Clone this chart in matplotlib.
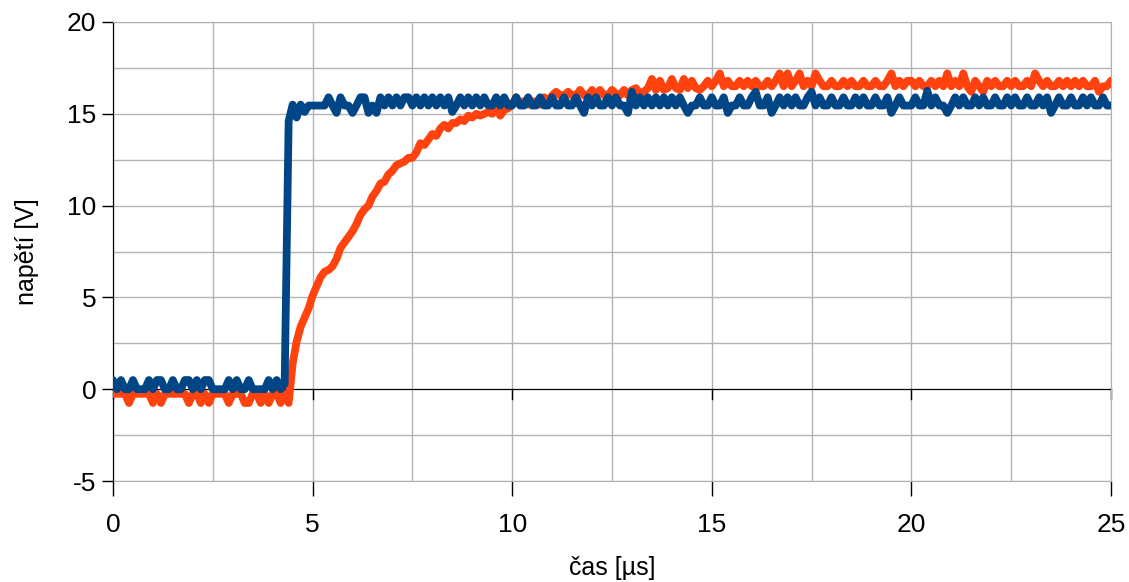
import numpy as np
import matplotlib.pyplot as plt

plt.rcParams['font.family'] = ['Liberation Sans', 'DejaVu Sans']

# sampled every 0.1 us, 0 .. 25 us
dt = 0.1

napeti_1 = [
    0.5, 0.0, 0.5, 0.0, 0.0, 0.5, 0.0, 0.0, 0.0, 0.5,
    0.0, 0.5, 0.5, 0.0, 0.0, 0.5, 0.0, 0.0, 0.5, 0.5,
    0.0, 0.5, 0.0, 0.5, 0.5, 0.0, 0.0, 0.0, 0.0, 0.5,
    0.0, 0.5, 0.0, 0.0, 0.5, 0.0, 0.0, 0.0, 0.0, 0.5,
    0.0, 0.5, 0.0, 0.3, 14.6, 15.5, 14.8, 15.5, 15.1, 15.45,
    15.45, 15.45, 15.45, 15.45, 15.9, 15.45, 15.05, 15.9, 15.45, 15.45,
    15.05, 15.45, 15.9, 15.9, 15.05, 15.45, 15.05, 15.9, 15.45, 15.9,
    15.45, 15.9, 15.45, 15.9, 15.9, 15.45, 15.9, 15.45, 15.9, 15.45,
    15.9, 15.45, 15.9, 15.45, 15.9, 15.1, 15.45, 15.9, 15.45, 15.9,
    15.45, 15.9, 15.45, 15.9, 15.45, 15.45, 15.9, 15.45, 15.9, 15.45,
    15.45, 15.9, 15.45, 15.45, 15.9, 15.45, 15.45, 15.9, 15.45, 15.45,
    15.9, 15.45, 15.45, 15.9, 15.45, 15.45, 15.9, 15.45, 15.05, 15.9,
    15.45, 15.9, 15.45, 15.45, 15.9, 15.45, 15.9, 15.45, 15.45, 15.05,
    16.2, 15.45, 15.9, 15.45, 15.9, 15.45, 15.9, 15.45, 15.9, 15.45,
    15.9, 15.45, 15.9, 15.45, 15.05, 15.45, 15.45, 15.9, 15.45, 15.45,
    15.9, 15.45, 15.45, 15.9, 15.05, 15.45, 15.45, 15.9, 15.45, 15.45,
    15.9, 16.2, 15.45, 15.45, 15.9, 15.05, 15.45, 15.9, 15.45, 15.9,
    15.45, 15.9, 15.45, 15.45, 15.9, 16.2, 15.45, 15.9, 15.45, 15.45,
    15.9, 15.45, 15.45, 15.9, 15.45, 15.45, 15.9, 15.45, 15.9, 15.45,
    15.45, 15.9, 15.45, 15.45, 15.9, 15.05, 15.45, 15.9, 15.45, 15.45,
    15.45, 15.9, 15.45, 15.45, 16.25, 15.45, 15.9, 15.45, 15.45, 15.05,
    15.45, 15.9, 15.45, 15.9, 15.45, 15.45, 15.9, 15.45, 15.9, 15.45,
    15.45, 15.9, 15.45, 15.45, 15.9, 15.45, 15.9, 15.45, 15.45, 15.9,
    15.45, 15.45, 15.9, 15.45, 15.9, 15.05, 15.45, 15.9, 15.45, 15.45,
    15.9, 15.45, 15.45, 15.9, 15.45, 15.9, 15.45, 15.45, 15.9, 15.45,
    15.45,
]

napeti_2 = [
    -0.25, -0.25, -0.25, -0.25, -0.75, -0.25, -0.25, -0.25, -0.25, -0.25,
    -0.75, -0.25, -0.75, -0.25, -0.25, -0.25, -0.25, -0.25, -0.25, -0.75,
    -0.25, -0.25, -0.75, -0.25, -0.75, -0.25, -0.25, -0.25, -0.25, -0.75,
    -0.25, -0.25, -0.25, -0.75, -0.75, -0.25, -0.25, -0.75, -0.25, -0.75,
    -0.25, -0.25, -0.75, -0.25, -0.75, 1.4, 2.6, 3.4, 3.9, 4.4,
    5.1, 5.6, 6.1, 6.4, 6.5, 6.7, 7.1, 7.7, 8.0, 8.3,
    8.6, 9.0, 9.5, 9.8, 10.0, 10.5, 10.8, 11.2, 11.3, 11.7,
    11.9, 12.2, 12.3, 12.4, 12.6, 12.6, 12.9, 13.4, 13.3, 13.6,
    13.9, 13.8, 14.2, 14.4, 14.2, 14.5, 14.5, 14.7, 14.6, 14.9,
    14.8, 15.0, 14.9, 15.0, 15.1, 15.0, 15.3, 14.9, 15.2, 15.3,
    15.5, 15.9, 15.5, 15.7, 15.5, 15.6, 15.7, 15.5, 15.9, 15.6,
    16.0, 16.2, 16.0, 16.0, 16.2, 16.0, 16.0, 16.3, 16.0, 16.0,
    16.3, 16.0, 16.3, 16.0, 16.0, 16.3, 16.1, 16.0, 16.3, 16.0,
    16.3, 16.4, 16.1, 16.2, 16.4, 16.9, 16.3, 16.8, 16.3, 16.4,
    16.9, 16.4, 16.3, 16.9, 16.4, 16.8, 16.4, 16.3, 16.5, 16.8,
    16.5, 16.8, 17.2, 16.5, 16.8, 16.5, 16.5, 16.8, 16.5, 16.8,
    16.5, 16.8, 16.5, 16.5, 16.8, 16.5, 16.8, 17.2, 16.5, 17.2,
    16.5, 16.8, 17.2, 16.5, 16.8, 16.5, 17.2, 16.8, 16.5, 16.5,
    16.8, 16.5, 16.5, 16.8, 16.5, 16.8, 16.5, 16.5, 16.8, 16.5,
    16.5, 16.8, 16.5, 16.5, 16.8, 17.2, 16.5, 16.8, 16.5, 16.8,
    16.8, 16.5, 16.8, 16.5, 16.5, 16.8, 16.5, 16.8, 16.5, 17.2,
    16.5, 16.8, 16.5, 17.2, 16.5, 16.2, 16.8, 16.5, 16.2, 16.8,
    16.5, 16.8, 16.5, 16.5, 16.8, 16.5, 16.8, 16.5, 16.5, 16.8,
    16.5, 17.2, 16.8, 16.5, 16.8, 16.5, 16.5, 16.8, 16.5, 16.8,
    16.5, 16.8, 16.5, 16.8, 16.5, 16.5, 16.8, 16.2, 16.5, 16.5,
    16.8,
]

x_ticks = [0, 5, 10, 15, 20, 25]
y_ticks = [-5, 0, 5, 10, 15, 20]

cas = np.arange(len(napeti_1)) * dt

fig = plt.figure(figsize=(11.29, 5.82), dpi=100)
ax = fig.add_axes([0.1001, 0.1735, 0.8839, 0.7887])

grid_c = '#b3b3b3'
ax.set_xticks(np.arange(0, 25.1, 2.5))
ax.set_yticks(np.arange(-5, 20.1, 2.5))
ax.grid(True, color=grid_c, lw=1)
ax.set_axisbelow(True)

ax.plot(cas, napeti_2, color='#ff420e', lw=5.6,
        solid_capstyle='round', solid_joinstyle='round', zorder=3)
ax.plot(cas, napeti_1, color='#004586', lw=5.6,
        solid_capstyle='round', solid_joinstyle='round', zorder=4)

ax.set_xlim(0, 25)
ax.set_ylim(-5, 20)

# x axis line crosses at 0 V, labels stay at the bottom
ax.spines['bottom'].set_position(('data', 0))
ax.spines['bottom'].set_zorder(2)
ax.spines['top'].set_color(grid_c)
ax.spines['right'].set_color(grid_c)
ax.spines['left'].set_color('black')
ax.tick_params(axis='x', labelbottom=False, length=0)
ax.tick_params(axis='y', length=0, labelleft=False)

# ticks on the 0 V line only at labelled positions
for xv in x_ticks:
    ax.plot([xv, xv], [0, -0.55], color='black', lw=1, clip_on=False, zorder=2)

sec = ax.secondary_xaxis('bottom')
sec.set_xticks(x_ticks)
sec.set_xticklabels([str(v) for v in x_ticks])
sec.spines['bottom'].set_color(grid_c)
sec.tick_params(length=11, width=1, color='black', pad=12, labelsize=19)
sec.set_xlabel('čas [µs]', fontsize=18, labelpad=14)

secy = ax.secondary_yaxis('left')
secy.set_yticks(y_ticks)
secy.set_yticklabels([str(v) for v in y_ticks])
secy.spines['left'].set_color('black')
secy.tick_params(length=8, width=1, color='black', pad=4, labelsize=19)
secy.set_ylabel('napětí [V]', fontsize=18, labelpad=20)

fig.savefig('out.png', dpi=100)
